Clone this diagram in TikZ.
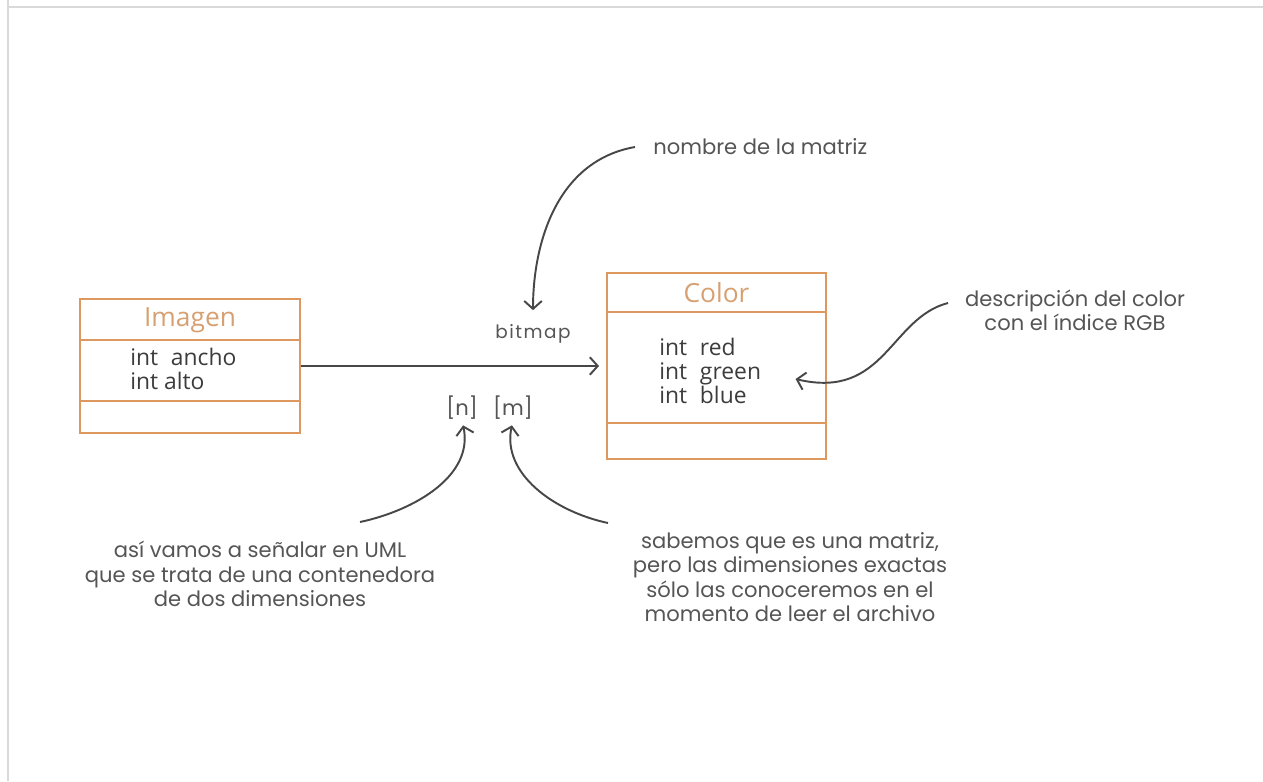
\documentclass[tikz,border=0pt]{standalone}
\usepackage{fontspec}
\setmainfont{Open Sans}
\newfontfamily\notefont{Poppins}
\usetikzlibrary{arrows.meta}

\begin{document}
\begin{tikzpicture}[x=0.02cm,y=-0.02cm]

% Colori
\definecolor{colBox}{HTML}{DC985F}
\definecolor{colTitle}{HTML}{D7A072}
\definecolor{colText}{HTML}{3C3C3C}
\definecolor{colNote}{HTML}{555555}
\definecolor{colArrow}{HTML}{474747}
\definecolor{colFrame}{HTML}{D9D9D9}

\tikzset{
  classbox/.style={draw=colBox, line width=1.1pt},
  classline/.style={draw=colBox, line width=1.1pt},
  classtitle/.style={font=\fontsize{15}{17}\selectfont, text=colTitle},
  classattr/.style={font=\fontsize{13}{13.8}\selectfont, text=colText, align=left, anchor=west, inner sep=0pt},
  note/.style={font=\notefont\fontsize{12}{13.8}\selectfont, text=colNote, align=center, inner sep=0pt},
  conn/.style={draw=colArrow, line width=1.1pt, -{Straight Barb[length=4.5pt,width=10pt]}},
}

\useasboundingbox (0,0) rectangle (1263,781);

% Cornice
\draw[colFrame, line width=1.2pt] (8,0) -- (8,781);
\draw[colFrame, line width=1.2pt] (8,7) -- (1263,7);

% Classe Imagen
\node[classbox, minimum width=4.4cm, minimum height=2.68cm] (imagen) at (190,366) {};
\draw[classline] (imagen.west |- 0,340) -- (imagen.east |- 0,340);
\draw[classline] (imagen.west |- 0,401) -- (imagen.east |- 0,401);
\node[classtitle] (imagenTitle) at (190,320) {Imagen};
\node[classattr] (imagenAttr) at (130,369) {int\hspace{0.3em} ancho\\int alto};

% Classe Color
\node[classbox, minimum width=4.38cm, minimum height=3.72cm] (color) at (716.5,366) {};
\draw[classline] (color.west |- 0,312) -- (color.east |- 0,312);
\draw[classline] (color.west |- 0,423) -- (color.east |- 0,423);
\node[classtitle] (colorTitle) at (716.5,293) {Color};
\node[classattr] (colorAttr) at (659,371) {int\hspace{0.3em} red\\int\hspace{0.3em} green\\int\hspace{0.3em} blue};

% Relazione
\draw[conn, shorten >=4pt] (imagen) -- (color);
\node[note, font=\notefont\fontsize{10.5}{12}\selectfont\addfontfeature{LetterSpace=8}] (bitmap) at (533,334) {bitmap};
\node[note] (n) at (462,408) {[n]};
\node[note] (m) at (513,408) {[m]};

% Note
\node[note, anchor=west] (nombre) at (653,147) {nombre de la matriz};
\node[note] (desc) at (1075,310) {descripción del color\\con el índice RGB};
\node[note] (asi) at (260,574) {así vamos a señalar en UML\\que se trata de una contenedora\\de dos dimensiones};
\node[note] (sabemos) at (790,577) {sabemos que es una matriz,\\pero las dimensiones exactas\\sólo las conoceremos en el\\momento de leer el archivo};

% Frecce delle note
\coordinate (nombreStart) at (635,147);
\coordinate (descStart) at (948,303);
\coordinate (asiStart) at (360,522);
\coordinate (sabemosStart) at (608,523);

\draw[conn, shorten >=8pt] (nombreStart) to[out=190, in=90] (bitmap.north);
\draw[conn, shorten >=20pt] (descStart) .. controls (890,318) and (885,400) .. (colorAttr.east);
\draw[conn, shorten >=3pt] (asiStart) to[out=12, in=-78] (n.south);
\draw[conn, shorten >=3pt] (sabemosStart) to[out=168, in=-102] (m.south);

\end{tikzpicture}
\end{document}
